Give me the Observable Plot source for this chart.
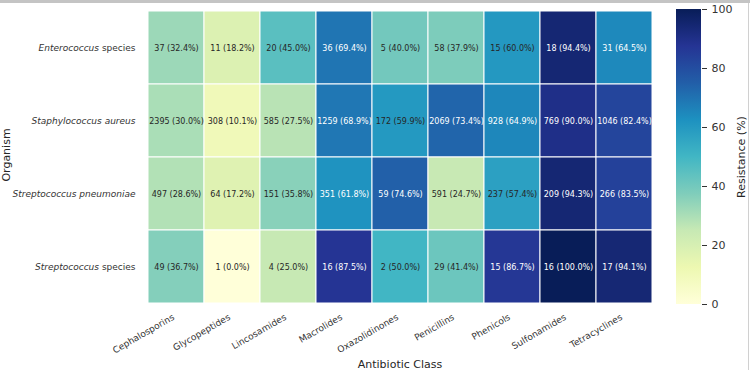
<!DOCTYPE html>
<html>
<head>
<meta charset="utf-8">
<script src="https://cdn.jsdelivr.net/npm/d3@7"></script>
<script src="https://cdn.jsdelivr.net/npm/@observablehq/plot@0.6"></script>
<style>
  html, body { margin: 0; padding: 0; background: #fff; }
  #chart { position: relative; width: 750px; height: 370px; overflow: hidden; font-family: "DejaVu Sans", sans-serif; }
  #row { display: flex; position: absolute; left: 0; top: 0; }
  #topbar { position: absolute; left: 0; top: 0; width: 750px; height: 3px; background: #c4c4c4; }
  #rightline { position: absolute; left: 748px; top: 3px; width: 1px; height: 367px; background: #d0d0d0; }
  svg { overflow: visible; }
</style>
</head>
<body>
<div id="chart"><div id="row"></div><div id="topbar"></div><div id="rightline"></div></div>
<script>
// Organisms (rows) and antibiotic classes (columns)
const organisms = ["Enterococcus species", "Staphylococcus aureus", "Streptococcus pneumoniae", "Streptococcus species"];
const classes = ["Cephalosporins", "Glycopeptides", "Lincosamides", "Macrolides", "Oxazolidinones", "Penicillins", "Phenicols", "Sulfonamides", "Tetracyclines"];

// Number of isolates tested, one row per organism
const isolates = [
  [37, 11, 20, 36, 5, 58, 15, 18, 31],
  [2395, 308, 585, 1259, 172, 2069, 928, 769, 1046],
  [497, 64, 151, 351, 59, 591, 237, 209, 266],
  [49, 1, 4, 16, 2, 29, 15, 16, 17]
];

// Percentage of resistant isolates, one row per organism
const resistance = [
  [32.4, 18.2, 45.0, 69.4, 40.0, 37.9, 60.0, 94.4, 64.5],
  [30.0, 10.1, 27.5, 68.9, 59.9, 73.4, 64.9, 90.0, 82.4],
  [28.6, 17.2, 35.8, 61.8, 74.6, 24.7, 57.4, 94.3, 83.5],
  [36.7, 0.0, 25.0, 87.5, 50.0, 41.4, 86.7, 100.0, 94.1]
];

const colorbarTicks = [0, 20, 40, 60, 80, 100];

// YlGnBu colour ramp
const ylgnbu = ["#ffffd9", "#edf8b1", "#c7e9b4", "#7fcdbb", "#41b6c4", "#1d91c0", "#225ea8", "#253494", "#081d58"];
const ramp = d3.piecewise(d3.interpolateRgb, ylgnbu);

const cells = [];
organisms.forEach((org, i) => classes.forEach((cls, j) => {
  cells.push({org, cls, n: isolates[i][j], pct: resistance[i][j]});
}));

const font = "DejaVu Sans";

const heatmap = Plot.plot({
  width: 660, height: 370,
  marginLeft: 144, marginRight: 5, marginTop: 9, marginBottom: 66,
  style: {fontFamily: font, color: "#333", background: "transparent"},
  x: {domain: classes, padding: 0, label: null},
  y: {domain: organisms, padding: 0, label: null},
  color: {type: "linear", domain: [0, 100], interpolate: ramp},
  marks: [
    Plot.cell(cells, {x: "cls", y: "org", fill: "pct", stroke: "white", strokeWidth: 1, inset: 0}),
    Plot.text(cells, {
      x: "cls", y: "org",
      text: d => `${d.n} (${d.pct.toFixed(1)}%)`,
      fill: d => d.pct > 60 ? "white" : "#262626",
      fontSize: 8
    }),
    Plot.axisX({tickSize: 0, tickPadding: 12, tickRotate: -30, fontSize: 9, dx: -3, label: null}),
    Plot.axisY({tickSize: 0, tickPadding: 9, fontSize: 9, label: null}),
    Plot.text(["Antibiotic Class"], {frameAnchor: "bottom", lineAnchor: "bottom", textAnchor: "middle", dy: 63, fontSize: 11, fill: "#262626"}),
    Plot.text(["Organism"], {frameAnchor: "left", textAnchor: "middle", rotate: -90, dx: -138, dy: -2, fontSize: 11, fill: "#262626"})
  ]
});

// Genus names in italics, the word "species" upright
d3.select(heatmap).selectAll('g[aria-label="y-axis tick label"] text').each(function () {
  const label = this.textContent;
  const words = label.split(" ");
  const t = d3.select(this);
  t.text(null);
  words.forEach((w, k) => {
    t.append("tspan")
      .attr("font-style", w === "species" ? "normal" : "italic")
      .text((k ? " " : "") + w);
  });
});

// Vertical colour bar drawn as a gradient rectangle
function colorbar(index, scales, values, dims) {
  const ns = "http://www.w3.org/2000/svg";
  const g = document.createElementNS(ns, "g");
  const defs = document.createElementNS(ns, "defs");
  const grad = document.createElementNS(ns, "linearGradient");
  grad.setAttribute("id", "cbar-grad");
  grad.setAttribute("x1", "0"); grad.setAttribute("y1", "1");
  grad.setAttribute("x2", "0"); grad.setAttribute("y2", "0");
  ylgnbu.forEach((c, i) => {
    const stop = document.createElementNS(ns, "stop");
    stop.setAttribute("offset", i / (ylgnbu.length - 1));
    stop.setAttribute("stop-color", c);
    grad.appendChild(stop);
  });
  defs.appendChild(grad);
  g.appendChild(defs);
  const rect = document.createElementNS(ns, "rect");
  const top = scales.y(100), bottom = scales.y(0);
  rect.setAttribute("x", dims.marginLeft);
  rect.setAttribute("width", dims.width - dims.marginLeft - dims.marginRight);
  rect.setAttribute("y", top);
  rect.setAttribute("height", bottom - top);
  rect.setAttribute("fill", "url(#cbar-grad)");
  g.appendChild(rect);
  return g;
}

const legend = Plot.plot({
  width: 90, height: 370,
  marginLeft: 16, marginRight: 49, marginTop: 9, marginBottom: 66,
  style: {fontFamily: font, color: "#333", background: "transparent"},
  y: {domain: [0, 100]},
  marks: [
    colorbar,
    Plot.axisY(colorbarTicks, {anchor: "right", tickSize: 5, tickPadding: 5, fontSize: 11, label: null}),
    Plot.text(["Resistance (%)"], {frameAnchor: "right", textAnchor: "middle", rotate: -90, dx: 40, fontSize: 11, fill: "#262626"})
  ]
});

const row = document.getElementById("row");
row.appendChild(heatmap);
row.appendChild(legend);
</script>
</body>
</html>
